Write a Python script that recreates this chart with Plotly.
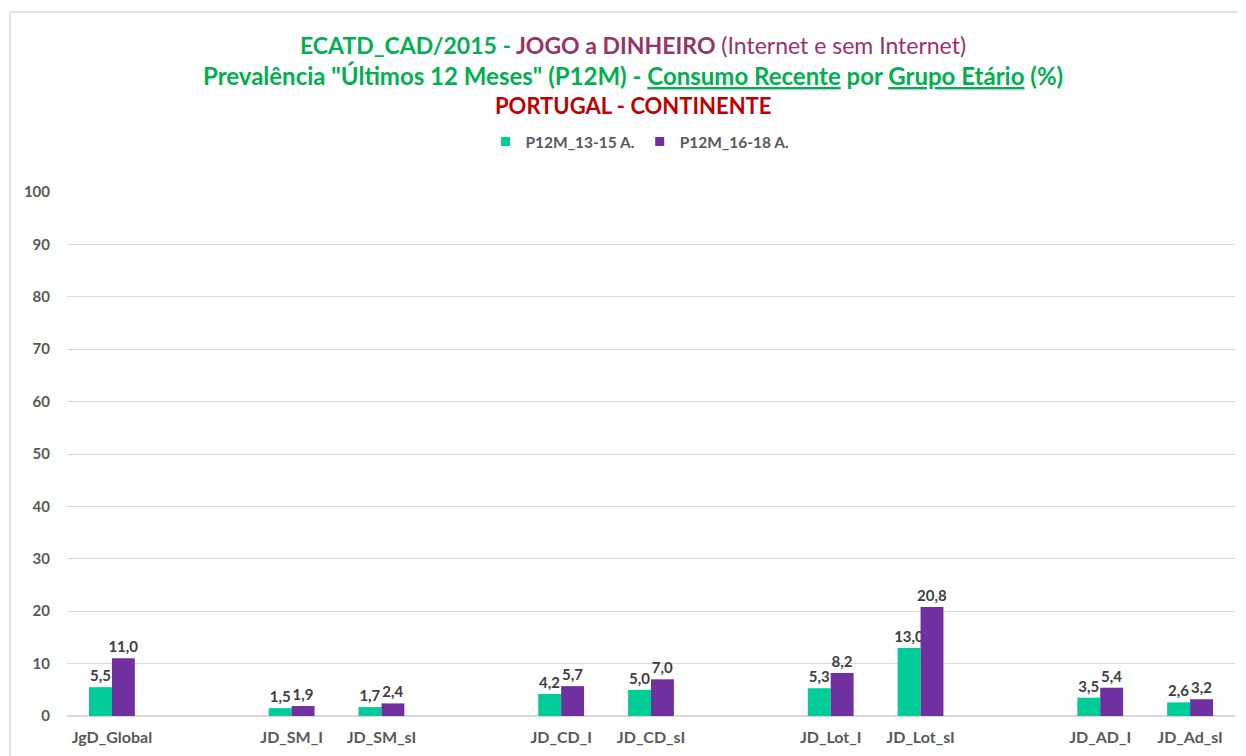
import plotly.graph_objects as go

categories = ["JgD_Global", " ", "JD_SM_I", "JD_SM_sI", "  ", "JD_CD_I", "JD_CD_sI",
              "   ", "JD_Lot_I", "JD_Lot_sI", "    ", "JD_AD_I", "JD_Ad_sI"]
p12m_13_15 = [5.5, None, 1.5, 1.7, None, 4.2, 5.0, None, 5.3, 13.0, None, 3.5, 2.6]
p12m_16_18 = [11.0, None, 1.9, 2.4, None, 5.7, 7.0, None, 8.2, 20.8, None, 5.4, 3.2]
series_names = ["P12M_13-15 A.", "P12M_16-18 A."]
y_ticks = [0, 10, 20, 30, 40, 50, 60, 70, 80, 90, 100]

FONT = "Lato"
GREEN_BAR = "#00CC99"
PURPLE_BAR = "#7030A0"
TITLE_GREEN = "#00B050"
TITLE_PLUM = "#993366"
TITLE_RED = "#C00000"
GRAY = "#595959"

# The page body adds an 8px offset; work in reference pixel coords minus 8.
OFF = 8
FIG_W, FIG_H = 1246 - OFF, 756 - OFF
L, T = 67 - OFF, 192 - OFF
PLOT_R, PLOT_B = 1235 - OFF, 716 - OFF
R, B = FIG_W - PLOT_R, FIG_H - PLOT_B
W, H = PLOT_R - L, PLOT_B - T

def px(x):
    return (x - OFF - L) / W

def py(y):
    return (PLOT_B - (y - OFF)) / H

fig = go.Figure()
for name, vals, col in [(series_names[0], p12m_13_15, GREEN_BAR),
                        (series_names[1], p12m_16_18, PURPLE_BAR)]:
    fig.add_trace(go.Bar(
        x=categories, y=vals, name=name, showlegend=False,
        marker=dict(color=col, line=dict(width=0)),
        texttemplate="%{y:.1f}", textposition="outside", constraintext="none",
        textfont=dict(family=FONT, size=15, color="#404040", weight="bold"),
        cliponaxis=False,
    ))
# legend entries with small square swatches
for name, col in [(series_names[0], GREEN_BAR), (series_names[1], PURPLE_BAR)]:
    fig.add_trace(go.Scatter(
        x=[None], y=[None], mode="markers", name=name,
        marker=dict(symbol="square", size=9, color=col),
    ))

title_x = px(633)
annotations = [
    dict(text=f"<b><span style='color:{TITLE_GREEN}'>ECATD_CAD/2015 - </span>"
              f"<span style='color:{TITLE_PLUM}'>JOGO a DINHEIRO</span></b>"
              f"<span style='color:{TITLE_PLUM}'> (Internet e sem Internet)</span>",
         x=title_x, y=py(45), font=dict(family=FONT, size=23)),
    dict(text=f"<b><span style='color:{TITLE_GREEN}'>Prevalência \"Últimos 12 Meses\" (P12M) - "
              f"<u>Consumo Recente</u> por <u>Grupo Etário</u> (%)</span></b>",
         x=title_x, y=py(76), font=dict(family=FONT, size=24)),
    dict(text=f"<b><span style='color:{TITLE_RED}'>PORTUGAL - CONTINENTE</span></b>",
         x=title_x, y=py(106), font=dict(family=FONT, size=22)),
]
for a in annotations:
    a.update(xref="paper", yref="paper", xanchor="center", yanchor="middle", showarrow=False)

fig.update_layout(
    width=FIG_W, height=FIG_H,
    margin=dict(l=L, r=R, t=T, b=B),
    paper_bgcolor="white", plot_bgcolor="white",
    separators=",.",
    barmode="group", bargap=0.49, bargroupgap=0,
    font=dict(family=FONT, color=GRAY),
    showlegend=True,
    legend=dict(orientation="h", x=px(640), y=py(142), xanchor="center", yanchor="middle",
                font=dict(family=FONT, size=15.5, color=GRAY, weight="bold"),
                itemwidth=30, tracegroupgap=0),
    annotations=annotations,
    shapes=[
        dict(type="line", xref="paper", yref="paper", x0=px(10), x1=px(1260), y0=py(12), y1=py(12),
             line=dict(color="#D9D9D9", width=1.5)),
        dict(type="line", xref="paper", yref="paper", x0=px(10), x1=px(10), y0=py(12), y1=py(770),
             line=dict(color="#D9D9D9", width=1.5)),
    ],
    xaxis=dict(type="category", showgrid=False, showline=False, zeroline=False, ticks="",
               ticklabelstandoff=10,
               tickfont=dict(family=FONT, size=16, color=GRAY, weight="bold")),
    yaxis=dict(range=[0, 100], tickvals=y_ticks, showgrid=True, gridcolor="#D9D9D9", gridwidth=1,
               zeroline=True, zerolinecolor="#D9D9D9", showline=False, ticks="",
               ticklabelstandoff=16,
               tickfont=dict(family=FONT, size=15, color=GRAY, weight="bold")),
)

fig.write_html("out.html")
